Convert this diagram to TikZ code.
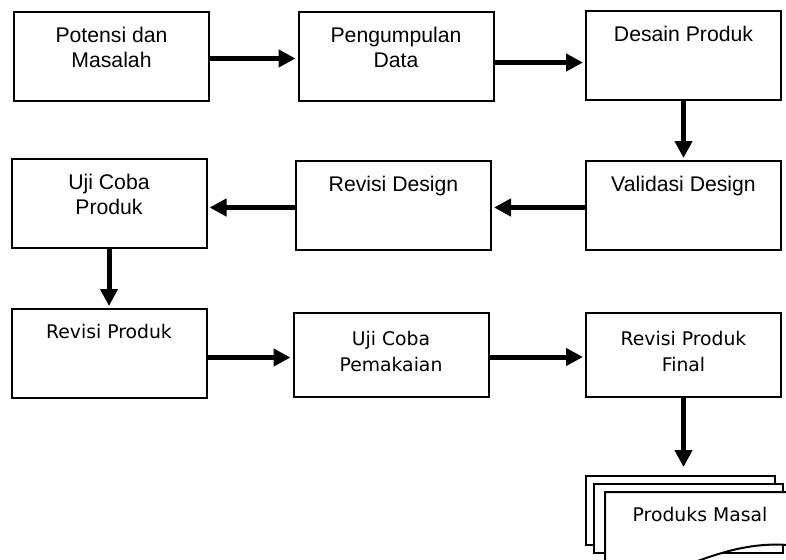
\documentclass[tikz,border=0pt]{standalone}
\usepackage{fontspec}
\setmainfont{Liberation Sans}
\newfontfamily\verdanalike{DejaVu Sans}
\usetikzlibrary{arrows.meta}

\begin{document}
\begin{tikzpicture}[x=0.5pt,y=-0.5pt,
	box/.style={draw,line width=1pt,minimum width=97.5pt,minimum height=44.5pt,inner sep=0pt},
	lowbox/.style={box,minimum height=42pt},
	txt/.style={anchor=north,align=center,inner sep=0pt,font=\fontsize{10.6}{12.5}\selectfont},
	txtb/.style={anchor=north,align=center,inner sep=0pt,font=\verdanalike\fontsize{9.4}{13}\selectfont},
	sheet/.style={draw,line width=1pt,fill=white},
	arr/.style={line width=2.5pt,-{Triangle[length=8.5pt,width=8.5pt]},shorten >=1pt}]

\useasboundingbox (0,0) rectangle (786,559);

\node[box] (potensi) at (111.5,56.5) {};
\node[box] (pengumpulan) at (396,56.5) {};
\node[box] (desain) at (683.5,55) {};
\node[box] (ujiproduk) at (109,203.5) {};
\node[box] (revisidesign) at (393.5,205.5) {};
\node[box] (validasi) at (683.5,205.5) {};
\node[box] (revisiproduk) at (109,353.5) {};
\node[lowbox] (ujipemakaian) at (391,355) {};
\node[lowbox] (revisifinal) at (683.5,355) {};

\node[txt] at ([yshift=-8pt]potensi.north) {Potensi dan\\Masalah};
\node[txt] at ([yshift=-8pt]pengumpulan.north) {Pengumpulan\\Data};
\node[txt] at ([yshift=-8pt]desain.north) {Desain Produk};
\node[txt] at ([yshift=-8pt]ujiproduk.north) {Uji Coba\\Produk};
\node[txt] at ([yshift=-8pt]revisidesign.north) {Revisi Design};
\node[txt] at ([yshift=-8pt]validasi.north) {Validasi Design};
\node[txtb] at ([yshift=-8pt]revisiproduk.north) {Revisi Produk};
\node[txtb] at ([yshift=-9.5pt]ujipemakaian.north) {Uji Coba\\Pemakaian};
\node[txtb] at ([yshift=-9.5pt]revisifinal.north) {Revisi Produk\\Final};

% produk masal (multidocument)
\begin{scope}
\clip (0,0) rectangle (786,559);
\draw[sheet] (586,476) rectangle (775,545);
\draw[sheet] (594,484) rectangle (783,553);
\draw[sheet] (605,492) -- (797,492) -- (797,546) .. controls (740,538) and (690,565) .. (650,580)
	.. controls (630,585) and (615,585) .. (605,582) -- cycle;
\end{scope}
\node[txtb] (produks) at (700,507) {Produks Masal};
\coordinate (masal) at (683.5,469);

% horizontal arrows, \dy = offset below the box centre
\foreach \from/\to/\dy in {potensi/pengumpulan/-1pt, pengumpulan/desain/-3pt, revisiproduk/ujipemakaian/-2pt, ujipemakaian/revisifinal/-1pt}
	\draw[arr] ([yshift=\dy]\from.east) -- ([yshift=\dy]\from.east -| \to.west);
\foreach \from/\to/\dy in {validasi/revisidesign/-1pt, revisidesign/ujiproduk/-1pt}
	\draw[arr] ([yshift=\dy]\from.west) -- ([yshift=\dy]\from.west -| \to.east);
\foreach \from/\to in {desain/validasi.north, ujiproduk/revisiproduk.north, revisifinal/masal}
	\draw[arr] (\from.south) -- (\from.south |- \to);
\end{tikzpicture}
\end{document}
